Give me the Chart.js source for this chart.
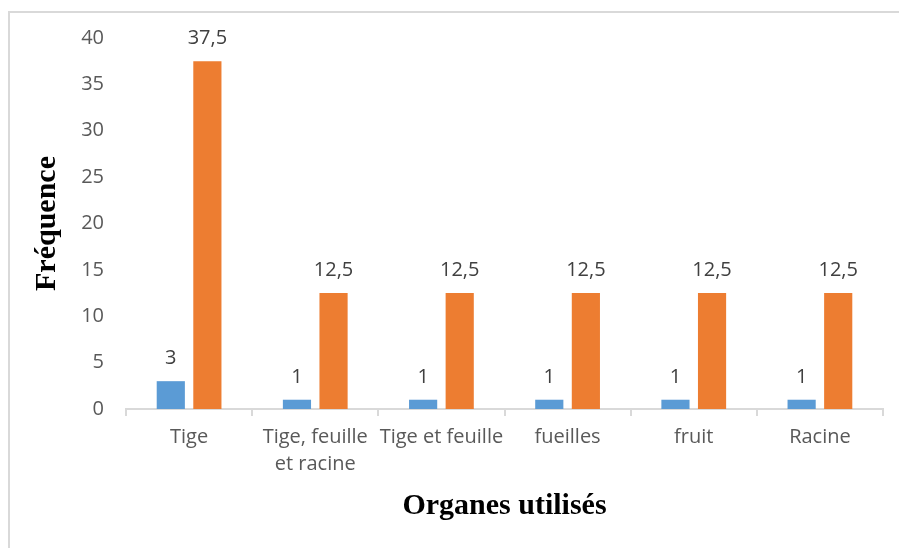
<!DOCTYPE html>
<html>
<head>
<meta charset="utf-8">
<script src="https://cdn.jsdelivr.net/npm/chart.js@4.4.1/dist/chart.umd.min.js"></script>
<style>
    html, body { margin: 0; padding: 0; background: #fff; }
    #wrap { position: relative; width: 899px; height: 548px; overflow: hidden; }
    #frame { position: absolute; left: 8px; top: 11px; width: 1000px; height: 600px;
             border-left: 2px solid #d9d9d9; border-top: 2px solid #d9d9d9; }
    canvas { position: absolute; left: 0; top: 0; }
</style>
</head>
<body>
<div id="wrap">
    <div id="frame"></div>
    <canvas id="chart" width="899" height="548"></canvas>
</div>
<script>
// Données
const categories = ['Tige', ['Tige, feuille', 'et racine'], 'Tige et feuille', 'fueilles', 'fruit', 'Racine'];
const serie1 = [3, 1, 1, 1, 1, 1];
const serie2 = [37.5, 12.5, 12.5, 12.5, 12.5, 12.5];
const yTicks = [0, 5, 10, 15, 20, 25, 30, 35, 40];

const tickFont = { family: 'Open Sans', size: 20 };

// étiquettes de valeur au-dessus des barres (virgule décimale)
const valueLabels = {
    id: 'valueLabels',
    afterDatasetsDraw(chart) {
        const ctx = chart.ctx;
        ctx.save();
        ctx.font = '20px "Open Sans"';
        ctx.fillStyle = '#404040';
        ctx.textAlign = 'center';
        ctx.textBaseline = 'alphabetic';
        chart.data.datasets.forEach((ds, i) => {
            chart.getDatasetMeta(i).data.forEach((bar, j) => {
                const txt = String(ds.data[j]).replace('.', ',');
                ctx.fillText(txt, bar.x, bar.y - 17);
            });
        });
        ctx.restore();
    }
};

new Chart(document.getElementById('chart'), {
    type: 'bar',
    data: {
        labels: categories,
        datasets: [
            { label: 'Série 1', data: serie1, backgroundColor: '#5b9bd5', categoryPercentage: 0.58, barPercentage: 0.77 },
            { label: 'Série 2', data: serie2, backgroundColor: '#ed7d31', categoryPercentage: 0.58, barPercentage: 0.77 }
        ]
    },
    options: {
        responsive: false,
        animation: false,
        layout: { padding: { left: 29, right: 16, top: 38, bottom: 24 } },
        plugins: { legend: { display: false }, tooltip: { enabled: false } },
        scales: {
            x: {
                grid: { display: true, drawOnChartArea: false, drawTicks: true, tickLength: 7, color: '#d9d9d9', lineWidth: 2 },
                border: { display: true, color: '#d9d9d9', width: 2 },
                ticks: { color: '#595959', font: { ...tickFont, lineHeight: 1.35 }, padding: 8, maxRotation: 0, autoSkip: false },
                title: { display: true, text: 'Organes utilisés', color: '#000',
                         font: { family: 'Liberation Serif', size: 30, weight: 'bold' }, padding: 0 },
                afterFit(scale) { scale.height = 115; }
            },
            y: {
                min: 0, max: 40,
                grid: { display: false, drawTicks: false },
                border: { display: false },
                afterBuildTicks(scale) { scale.ticks = yTicks.map(v => ({ value: v })); },
                ticks: { color: '#595959', font: tickFont, padding: 22 },
                title: { display: true, text: 'Fréquence', color: '#000',
                         font: { family: 'Liberation Serif', size: 30, weight: 'bold' }, padding: 0 },
                afterFit(scale) { scale.width = 97; }
            }
        }
    },
    plugins: [valueLabels]
});
</script>
</body>
</html>
